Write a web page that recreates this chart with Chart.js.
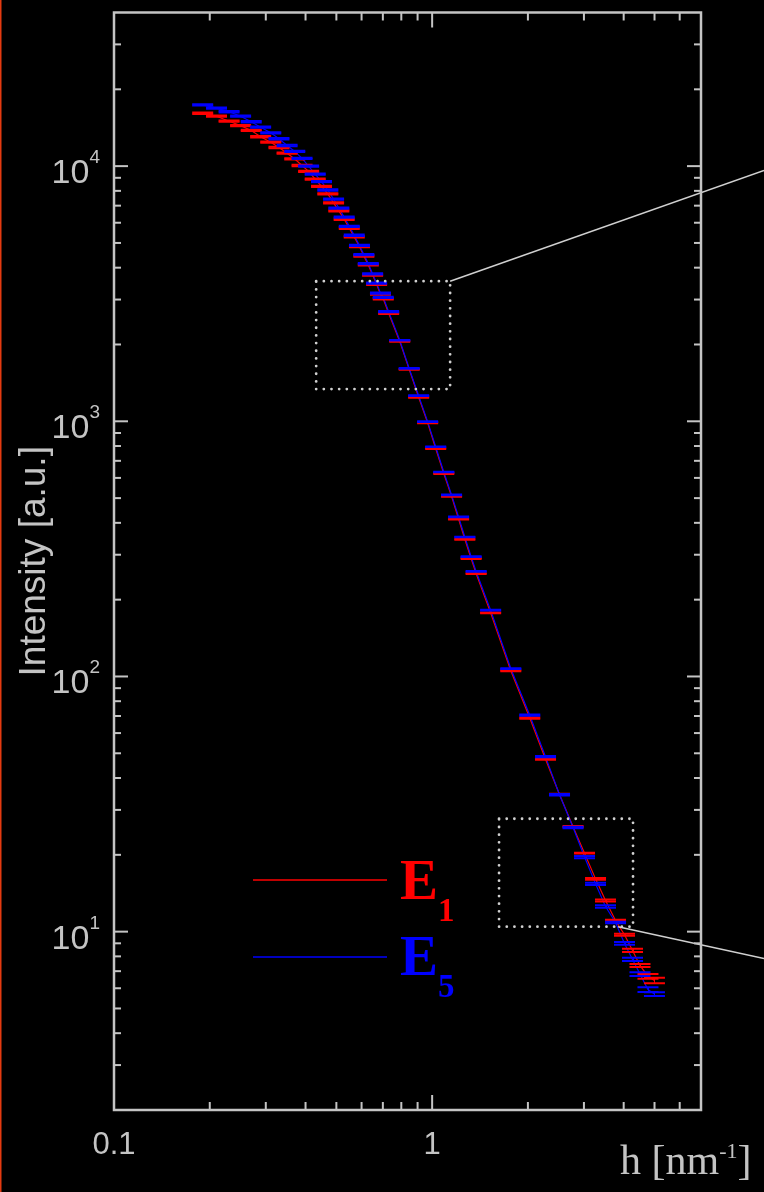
<!DOCTYPE html>
<html lang="en">
<head>
  <meta charset="utf-8">
  <title>Intensity vs h</title>
  <style type="text/css">
    /* black page, chart fills the window */
    html, body { margin: 0; padding: 0; background: #000; }
    .chart { width: 764px; height: 1192px; }
  </style>
</head>
<body>
  <div class="chart">
    <canvas id="saxsChart" width="764" height="1192"></canvas>
  </div>

  <script src="https://cdn.jsdelivr.net/npm/chart.js"></script>
  <script>
    // scattering vector h [nm^-1], same grid for both samples
    const hValues = [0.190, 0.210, 0.230, 0.250, 0.270, 0.289, 0.311, 0.330, 0.350, 0.370,
                     0.390, 0.409, 0.429, 0.449, 0.470, 0.490, 0.509, 0.529, 0.549, 0.569,
                     0.591, 0.610, 0.630, 0.650, 0.669, 0.688, 0.702, 0.730, 0.791, 0.847,
                     0.907, 0.968, 1.026, 1.088, 1.151, 1.211, 1.267, 1.326, 1.375, 1.527,
                     1.767, 2.027, 2.272, 2.514, 2.773, 3.013, 3.263, 3.507, 3.771, 4.024,
                     4.264, 4.501, 4.769, 4.998];

    // intensity [a.u.]
    const intensityE1 = [16120, 15690, 15000, 14410, 13800, 13040, 12410, 11830, 11240, 10670,
                         10060, 9535, 8890, 8330, 7780, 7180, 6680, 6190, 5710, 5280,
                         4840, 4440, 4100, 3740, 3440, 3150, 3020, 2650, 2056, 1598,
                         1243, 986, 782, 624, 508, 414, 345, 290, 253, 177.5,
                         105.3, 68.7, 47.4, 34.5, 25.8, 20.3, 16.1, 13.25, 11.06, 9.72,
                         8.44, 7.37, 6.68, 6.44];
    const intensityE5 = [17390, 16870, 16330, 15690, 14920, 14210, 13510, 12800, 12050, 11420,
                         10720, 10000, 9300, 8690, 8060, 7430, 6850, 6310, 5810, 5360,
                         4890, 4500, 4150, 3780, 3480, 3180, 3060, 2690, 2078, 1611,
                         1260, 997, 795, 633, 515, 422, 352, 295, 258, 182,
                         107.4, 70.5, 48.5, 34.4, 25.6, 19.6, 15.4, 12.55, 10.86, 8.99,
                         7.78, 6.82, 5.93, 5.69];

    // error bars, percent of the value
    const errE1 = [0.6, 0.6, 0.6, 0.6, 0.6, 0.6, 0.6, 0.6, 0.6, 0.6,
                   0.6, 0.6, 0.6, 0.6, 0.6, 0.6, 0.6, 0.6, 0.6, 0.6,
                   0.6, 0.6, 0.6, 0.6, 0.6, 0.6, 0.6, 0.6, 0.4, 0.4,
                   0.4, 0.4, 0.4, 0.4, 0.4, 0.4, 0.4, 0.4, 0.4, 0.4,
                   0.4, 0.5, 0.5, 0.5, 0.5, 0.3, 0.8, 0.9, 0.6, 0.9,
                   1.5, 1.3, 2.2, 2.5];
    const errE5 = [0.6, 0.6, 0.6, 0.6, 0.6, 0.6, 0.6, 0.6, 0.6, 0.6,
                   0.6, 0.6, 0.6, 0.6, 0.6, 0.6, 0.6, 0.6, 0.6, 0.6,
                   0.6, 0.6, 0.6, 0.6, 0.6, 0.6, 0.6, 0.6, 0.3, 0.3,
                   0.3, 0.3, 0.3, 0.3, 0.3, 0.3, 0.3, 0.3, 0.3, 0.3,
                   0.3, 0.6, 0.6, 0.6, 0.6, 1.0, 1.0, 1.1, 0.6, 1.2,
                   1.5, 1.7, 2.2, 1.7];

    // axes
    const xMajorTicks = [0.1, 1];
    const xTickLabels = ['0.1', '1'];
    const xMinorTicks = [0.2, 0.3, 0.4, 0.5, 0.6, 0.7, 0.8, 0.9, 2, 3, 4, 5, 6];
    const yMajorTicks = [10, 100, 1000, 10000];
    const yTickExponents = ['1', '2', '3', '4'];
    const yMinorTicks = [3, 4, 5, 6, 7, 8, 9, 20, 30, 40, 50, 60, 70, 80, 90,
                         200, 300, 400, 500, 600, 700, 800, 900,
                         2000, 3000, 4000, 5000, 6000, 7000, 8000, 9000, 20000, 30000];

    // dotted zoom boxes [hMin, hMax, iMin, iMax] and where their leader lines go
    const zoomBoxes = [[0.432, 1.139, 1337, 3540], [1.623, 4.28, 10.46, 27.7]];
    const leaderStart = [[1.139, 3540], [3.84, 10.46]];
    const leaderEndY = [9620, 7.84];

    const RED = '#ff0000';
    const BLUE = '#0000ff';
    const GREY = '#c4c4c4';

    function points(ys) {
      return hValues.map((h, i) => ({ x: h, y: ys[i] }));
    }
    function caps(ys, errs, up) {
      return hValues.map((h, i) => ({ x: h, y: up ? ys[i] * (1 + errs[i] / 100) : ys[i] / (1 + errs[i] / 100) }));
    }
    function seg(ctx, x1, y1, x2, y2) {
      ctx.beginPath(); ctx.moveTo(x1, y1); ctx.lineTo(x2, y2); ctx.stroke();
    }

    // vertical stem of every error bar
    const errorStems = {
      id: 'errorStems',
      beforeDatasetsDraw(chart) {
        const { ctx, scales: { x, y } } = chart;
        ctx.save();
        ctx.lineWidth = 1;
        [[intensityE1, errE1, RED], [intensityE5, errE5, BLUE]].forEach(([ys, errs, col]) => {
          ctx.strokeStyle = col;
          hValues.forEach((h, i) => {
            const px = Math.round(x.getPixelForValue(h)) + 0.5;
            seg(ctx, px, y.getPixelForValue(ys[i] * (1 + errs[i] / 100)), px, y.getPixelForValue(ys[i] / (1 + errs[i] / 100)));
          });
        });
        ctx.restore();
      }
    };

    // frame with inward ticks, labels, legend, zoom boxes
    const framePlugin = {
      id: 'frame',
      afterDraw(chart) {
        const { ctx, chartArea: a, scales: { x, y } } = chart;
        ctx.save();

        // thin red edge on the left of the picture
        ctx.strokeStyle = '#e43a10';
        ctx.lineWidth = 1.5;
        seg(ctx, 0.75, 0, 0.75, chart.height);

        // zoom boxes
        ctx.strokeStyle = '#d0d0d0';
        ctx.lineWidth = 2.8;
        ctx.lineCap = 'round';
        ctx.setLineDash([0, 7.67]);
        zoomBoxes.forEach(b => {
          const l = x.getPixelForValue(b[0]), r = x.getPixelForValue(b[1]);
          const t = y.getPixelForValue(b[3]), btm = y.getPixelForValue(b[2]);
          ctx.strokeRect(l, t, r - l, btm - t);
        });
        ctx.setLineDash([]);
        ctx.lineCap = 'butt';
        ctx.lineWidth = 1.5;
        leaderStart.forEach((p, i) => {
          seg(ctx, x.getPixelForValue(p[0]), y.getPixelForValue(p[1]), chart.width, y.getPixelForValue(leaderEndY[i]));
        });

        // frame
        ctx.strokeStyle = GREY;
        ctx.lineWidth = 2.5;
        ctx.strokeRect(a.left, a.top, a.right - a.left, a.bottom - a.top);

        // ticks, pointing into the plot on all four sides
        ctx.lineWidth = 2;
        const xt = (v, len) => {
          const px = x.getPixelForValue(v);
          seg(ctx, px, a.bottom, px, a.bottom - len);
          seg(ctx, px, a.top, px, a.top + len);
        };
        const yt = (v, len) => {
          const py = y.getPixelForValue(v);
          seg(ctx, a.left, py, a.left + len, py);
          seg(ctx, a.right, py, a.right - len, py);
        };
        xMajorTicks.forEach(v => xt(v, 15));
        xMinorTicks.forEach(v => xt(v, 8));
        yMajorTicks.forEach(v => yt(v, 14));
        yMinorTicks.forEach(v => yt(v, 7));

        // tick labels
        ctx.fillStyle = GREY;
        ctx.textBaseline = 'alphabetic';
        ctx.font = '31px "Liberation Sans", Arial, sans-serif';
        ctx.textAlign = 'center';
        xMajorTicks.forEach((v, i) => ctx.fillText(xTickLabels[i], x.getPixelForValue(v), a.bottom + 44));

        ctx.textAlign = 'right';
        yMajorTicks.forEach((v, i) => {
          const py = y.getPixelForValue(v);
          ctx.font = '19px "Liberation Sans", Arial, sans-serif';
          const sw = ctx.measureText(yTickExponents[i]).width;
          ctx.fillText(yTickExponents[i], a.left - 14, py - 3);
          ctx.font = '34px "Liberation Sans", Arial, sans-serif';
          ctx.fillText('10', a.left - 14 - sw, py + 17);
        });

        // y title
        ctx.save();
        ctx.translate(45, (a.top + a.bottom) / 2);
        ctx.rotate(-Math.PI / 2);
        ctx.textAlign = 'center';
        ctx.font = '37px "Liberation Sans", Arial, sans-serif';
        ctx.fillText('Intensity [a.u.]', 0, 0);
        ctx.restore();

        // x title h [nm^-1]
        ctx.textAlign = 'left';
        let tx = 620;
        ctx.font = '42px "Liberation Serif", "Times New Roman", serif';
        ctx.fillText('h [nm', tx, 1174);
        tx += ctx.measureText('h [nm').width;
        ctx.font = '22px "Liberation Serif", "Times New Roman", serif';
        ctx.fillText('-1', tx, 1158);
        tx += ctx.measureText('-1').width;
        ctx.font = '42px "Liberation Serif", "Times New Roman", serif';
        ctx.fillText(']', tx, 1174);

        // legend
        [[RED, '1', 880, 899], [BLUE, '5', 957, 975]].forEach(([col, sub, ly, by]) => {
          ctx.strokeStyle = col;
          ctx.lineWidth = 1.5;
          seg(ctx, 253, ly, 387, ly);
          ctx.fillStyle = col;
          ctx.font = 'bold 57px "Liberation Serif", "Times New Roman", serif';
          ctx.fillText('E', 400, by);
          const ew = ctx.measureText('E').width;
          ctx.font = 'bold 33px "Liberation Serif", "Times New Roman", serif';
          ctx.fillText(sub, 400 + ew, by + 22);
        });

        ctx.restore();
      }
    };

    const capStyle = { showLine: false, pointStyle: 'line', pointRadius: 10.5, borderWidth: 2, pointBorderWidth: 2 };

    const ctx = document.getElementById('saxsChart').getContext('2d');
    const saxsChart = new Chart(ctx, {
      type: 'scatter',
      data: {
        datasets: [
          { label: 'E1', data: points(intensityE1), showLine: true, borderColor: RED, borderWidth: 1.2, pointRadius: 0, order: 6 },
          { label: 'E5', data: points(intensityE5), showLine: true, borderColor: BLUE, borderWidth: 1.2, pointRadius: 0, order: 5 },
          Object.assign({ label: 'E1 +err', data: caps(intensityE1, errE1, true), borderColor: RED, order: 4 }, capStyle),
          Object.assign({ label: 'E1 -err', data: caps(intensityE1, errE1, false), borderColor: RED, order: 3 }, capStyle),
          Object.assign({ label: 'E5 +err', data: caps(intensityE5, errE5, true), borderColor: BLUE, order: 2 }, capStyle),
          Object.assign({ label: 'E5 -err', data: caps(intensityE5, errE5, false), borderColor: BLUE, order: 1 }, capStyle)
        ]
      },
      options: {
        responsive: false,
        animation: false,
        devicePixelRatio: 1,
        events: [],
        layout: { padding: { left: 114, right: 63, top: 11, bottom: 82 } },
        scales: {
          x: { type: 'logarithmic', min: 0.1, max: 7, display: false },
          y: { type: 'logarithmic', min: 2, max: 40000, display: false }
        },
        plugins: {
          legend: { display: false },
          tooltip: { enabled: false }
        }
      },
      plugins: [errorStems, framePlugin]
    });
  </script>
</body>
</html>
